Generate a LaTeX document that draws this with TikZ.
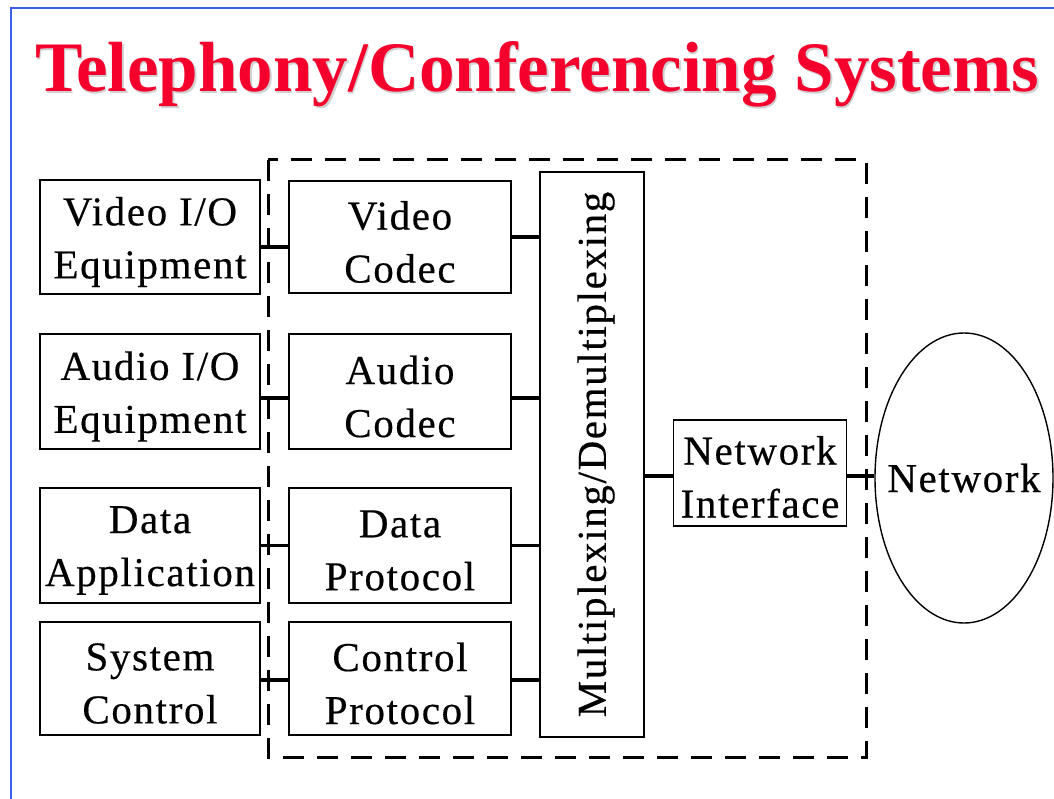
\documentclass[tikz,border=0pt]{standalone}
\usepackage{fontspec}
\setmainfont{Liberation Serif}
\newfontfamily\boxfont[LetterSpace=4,FakeBold=0.4]{Liberation Serif}
\usetikzlibrary{shapes.geometric}
\definecolor{slideblue}{RGB}{60,95,235}
\definecolor{titlered}{RGB}{245,0,45}
\tikzset{
  blk/.style={draw=black, line width=1.8pt, rectangle, inner sep=0pt, outer sep=0pt},
  txt/.style={font=\boxfont\fontsize{41}{53}\selectfont, align=center, inner sep=0pt, yshift=-5pt},
  conn/.style={line width=3.5pt},
  dashbox/.style={line width=3pt, dash pattern=on 21pt off 13pt},
  frame/.style={draw=slideblue, line width=2.5pt}
}
\begin{document}
\begin{tikzpicture}[x=1pt,y=-1pt]
\useasboundingbox (0,0) rectangle (1054,799);
\fill[white] (0,0) rectangle (1054,799);
% slide frame
\coordinate (fTR) at (1054,8);
\coordinate (fTL) at (11,8);
\coordinate (fBL) at (11,799);
\draw[frame] (fTR) -- (fTL) -- (fBL);
% title
\node[anchor=base west, text=black!18, font=\bfseries\fontsize{71}{80}\selectfont, inner sep=0pt] (tsh) at (36.5,93.5) {Telephony/Conferencing Systems};
\node[anchor=base west, text=titlered, font=\bfseries\fontsize{71}{80}\selectfont, inner sep=0pt] (title) at (35,92) {Telephony/Conferencing Systems};
% dashed enclosure
\coordinate (dTL) at (268,160);
\coordinate (dBR) at (866,757);
\draw[dashbox] (dTL) rectangle (dBR);
% left column
\node[blk, minimum width=220pt, minimum height=114pt, label={[txt]center:{Video I/O\\Equipment}}] (vio) at (150,237) {};
\node[blk, minimum width=220pt, minimum height=115pt, label={[txt]center:{Audio I/O\\Equipment}}] (aio) at (150,391.5) {};
\node[blk, minimum width=220pt, minimum height=115pt, label={[txt]center:{Data\\Application}}] (da) at (150,545.5) {};
\node[blk, minimum width=220pt, minimum height=113pt, label={[txt]center:{System\\Control}}] (sc) at (150,678.5) {};
% codec column
\node[blk, minimum width=222pt, minimum height=112pt, label={[txt]center:{Video\\Codec}}] (vc) at (400,237) {};
\node[blk, minimum width=222pt, minimum height=115pt, label={[txt]center:{Audio\\Codec}}] (ac) at (400,391.5) {};
\node[blk, minimum width=222pt, minimum height=115pt, label={[txt]center:{Data\\Protocol}}] (dp) at (400,545.5) {};
\node[blk, minimum width=222pt, minimum height=113pt, label={[txt]center:{Control\\Protocol}}] (cp) at (400,678.5) {};
% mux
\node[blk, minimum width=104pt, minimum height=565pt] (mux) at (592,454.5) {};
\node[font=\boxfont\fontsize{41}{53}\selectfont, rotate=90, inner sep=0pt] (muxt) at ([xshift=4pt]mux.center) {Multiplexing/Demultiplexing};
% network interface
\node[blk, minimum width=173pt, minimum height=106pt, label={[txt, yshift=1pt]center:{Network\\Interface}}] (ni) at (760,473) {};
% network
\node[draw=black, line width=1.4pt, ellipse, minimum width=178pt, minimum height=290pt, inner sep=0pt] (net) at (964,478) {};
\node[font=\boxfont\fontsize{41}{53}\selectfont, inner sep=0pt] (nett) at (net.center) {Network};
% connectors left -> codec
\path ([yshift=-10pt]vio.east) coordinate (vioE);
\path ([yshift=-6.5pt]aio.east) coordinate (aioE);
\path (da.east) coordinate (daE);
\path ([yshift=-1.5pt]sc.east) coordinate (scE);
\draw[conn] (vioE) -- (vioE -| vc.west);
\draw[conn] (aioE) -- (aioE -| ac.west);
\draw[conn] (daE) -- (daE -| dp.west);
\draw[conn] (scE) -- (scE -| cp.west);
% codec -> mux
\path (vc.east) coordinate (vcE);
\path ([yshift=-6.5pt]ac.east) coordinate (acE);
\path (dp.east) coordinate (dpE);
\path ([yshift=-1.5pt]cp.east) coordinate (cpE);
\draw[conn] (vcE) -- (vcE -| mux.west);
\draw[conn] (acE) -- (acE -| mux.west);
\draw[conn] (dpE) -- (dpE -| mux.west);
\draw[conn] (cpE) -- (cpE -| mux.west);
% mux -> ni -> network
\path ([yshift=-3pt]ni.west) coordinate (niW);
\path ([yshift=-3pt]ni.east) coordinate (niE);
\draw[conn] (niW -| mux.east) -- (niW);
\draw[conn] (niE) -- (niE -| net.west);
\end{tikzpicture}
\end{document}
